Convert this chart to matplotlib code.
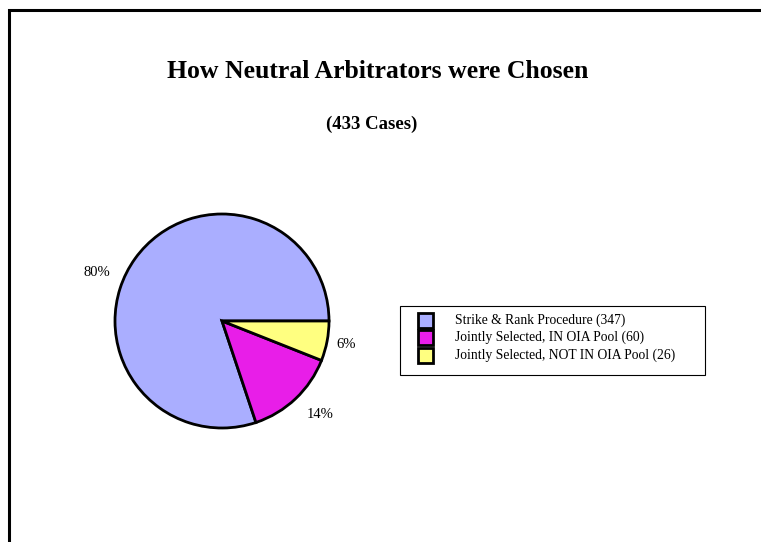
import matplotlib.pyplot as plt
from matplotlib.patches import Rectangle

plt.rcParams['font.family'] = ['Liberation Serif', 'DejaVu Serif']

labels = ["Strike & Rank Procedure (347)",
          "Jointly Selected, IN OIA Pool (60)",
          "Jointly Selected, NOT IN OIA Pool (26)"]
counts = [347, 60, 26]
colors = ["#AAAEFF", "#E81EE8", "#FFFF80"]

W, H = 761, 542
fig = plt.figure(figsize=(W / 100, H / 100), dpi=100)
ax = fig.add_axes([0, 0, 1, 1])

# page frame (runs off the right and bottom edges)
ax.plot([9, 9, W + 10], [-10, H - 10, H - 10], color='black', lw=2.2, solid_joinstyle='miter')

ax.text(378, H - 72, "How Neutral Arbitrators were Chosen", ha='center', va='center',
        fontsize=18.5, fontweight='bold')
ax.text(372, H - 124, "(433 Cases)", ha='center', va='center', fontsize=13.5, fontweight='bold')

wedges, texts, autotexts = ax.pie(counts, colors=colors, center=(222, H - 321), radius=107,
                                  startangle=0, counterclock=True,
                                  autopct='%1.0f%%', pctdistance=1.25,
                                  wedgeprops=dict(edgecolor='black', linewidth=2),
                                  textprops=dict(fontsize=10.5), frame=True)
ax.set_xlim(0, W)
ax.set_ylim(0, H)
ax.set_aspect('equal')
ax.axis('off')

# nudge the percentage labels to sit where they read best
label_pos = [(97, H - 273), (320, H - 415), (346, H - 345)]
for t, p in zip(autotexts, label_pos):
    t.set_position(p)

# legend box drawn by hand so the padding matches the layout
ax.add_patch(Rectangle((400, H - 375), 305, 69, facecolor='white', edgecolor='black', lw=0.8))
for i, (lab, c) in enumerate(zip(labels, colors)):
    y = H - (320 + 17.5 * i)
    ax.add_patch(Rectangle((418, y - 7.5), 15, 15, facecolor=c, edgecolor='black', lw=2))
    ax.text(455, y, lab, ha='left', va='center', fontsize=9.8)

fig.savefig("out.png", dpi=100)
